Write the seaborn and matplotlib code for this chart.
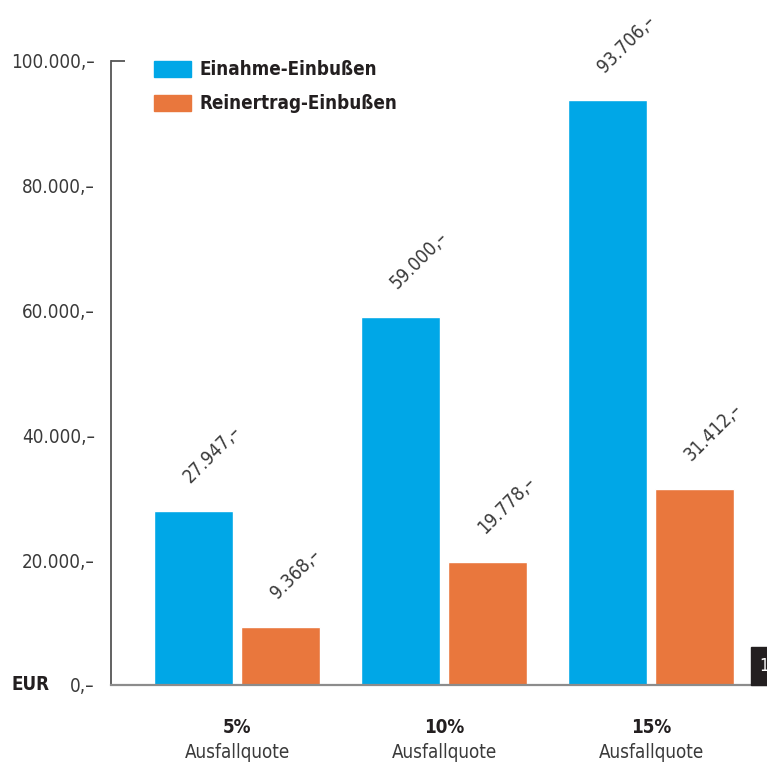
import matplotlib
matplotlib.use("Agg")
import matplotlib.pyplot as plt
from matplotlib.patches import Rectangle
import seaborn as sns
import pandas as pd

# Ausfallquoten und Einbußen in EUR
categories = ["5%", "10%", "15%"]
sublabel = "Ausfallquote"
series_names = ["Einahme-Einbußen", "Reinertrag-Einbußen"]
einnahme = [27947, 59000, 93706]
reinertrag = [9368, 19778, 31412]
y_ticks = [0, 20000, 40000, 60000, 80000, 100000]

BLUE = "#00A7E7"
ORANGE = "#E9773D"
DARK = "#231F20"
GREY = "#3A3A3A"

sns.set_theme(style="white")
plt.rcParams["font.family"] = ["DejaVu Sans"]
plt.rcParams["font.stretch"] = "condensed"

df = pd.DataFrame({
    "Quote": categories * 2,
    "Serie": [series_names[0]] * 3 + [series_names[1]] * 3,
    "Wert": einnahme + reinertrag,
})

W, H = 767, 764
PX = 72 / 100  # points per pixel at dpi 100
fig = plt.figure(figsize=(W / 100, H / 100), dpi=100)
ax = fig.add_axes([111 / W, (H - 685) / H, (767 - 111) / W, (685 - 61) / H])

sns.barplot(data=df, x="Quote", y="Wert", hue="Serie",
            palette=[BLUE, ORANGE], width=0.84, gap=0.09,
            saturation=1, errorbar=None, legend=False, ax=ax)

ax.set_ylim(0, 100000)
ax.set_xlim(-0.609, -0.609 + 656 / 207)

FS = 13.5


def fmt(v):
    return f"{v:,}".replace(",", ".") + ",\u2013"


# value labels, rotated above each bar
for container in ax.containers:
    for bar in container:
        h = bar.get_height()
        cx = bar.get_x() + bar.get_width() / 2
        ax.annotate(fmt(int(round(h))), (cx, h), xytext=(0, 17.5),
                    textcoords="offset points", rotation=45,
                    rotation_mode="anchor", ha="left", va="bottom",
                    fontsize=FS, color=GREY, annotation_clip=False)

# y axis
ax.set_yticks(y_ticks)
ax.set_yticklabels([fmt(t) for t in y_ticks], fontsize=FS, color=GREY)
ax.tick_params(axis="y", length=0, pad=16 * PX)
ax.set_ylabel("")
ax.set_xlabel("")

# x tick labels: bold quota plus sublabel
ax.set_xticks(range(len(categories)))
ax.set_xticklabels(categories, fontsize=FS, fontweight="bold", color=DARK)
ax.tick_params(axis="x", length=0, pad=33 * PX)
for i, _ in enumerate(categories):
    ax.annotate(sublabel, (i, 0), xytext=(0, -68 * PX), textcoords="offset points",
                ha="center", va="center", fontsize=FS, color=GREY,
                annotation_clip=False)

ax.annotate("EUR", (0, 0), xycoords="axes fraction", xytext=(-99 * PX, 0),
            textcoords="offset points", ha="left", va="center",
            fontsize=FS, fontweight="bold", color=DARK)

# spines
for s in ["top", "right"]:
    ax.spines[s].set_visible(False)
ax.spines["left"].set_color("#555555")
ax.spines["left"].set_linewidth(1.3)
ax.spines["bottom"].set_color("#8C8C8C")
ax.spines["bottom"].set_linewidth(1.6)
ax.plot([0, 0.022], [1, 1], transform=ax.transAxes, color="#555555",
        lw=1.3, clip_on=False, solid_capstyle="butt")

# legend
handles = [Rectangle((0, 0), 1, 1, color=c) for c in (BLUE, ORANGE)]
leg = ax.legend(handles, series_names, loc="upper left",
                bbox_to_anchor=(0.054, 1.013), frameon=False,
                handlelength=1.97, handleheight=0.95, handletextpad=0.48,
                labelspacing=0.8, borderaxespad=0.0,
                prop={"size": FS, "weight": "bold", "stretch": "condensed"})
for t in leg.get_texts():
    t.set_color(DARK)

# page marker at the bottom right edge
fig.patches.append(Rectangle((751 / W, (H - 685) / H), 20 / W, 38 / H,
                             transform=fig.transFigure, color=DARK, zorder=5))
fig.text(759 / W, (H - 666) / H, "1", color="white", fontsize=12,
         ha="left", va="center", zorder=6)

fig.savefig("out.png", dpi=100)
